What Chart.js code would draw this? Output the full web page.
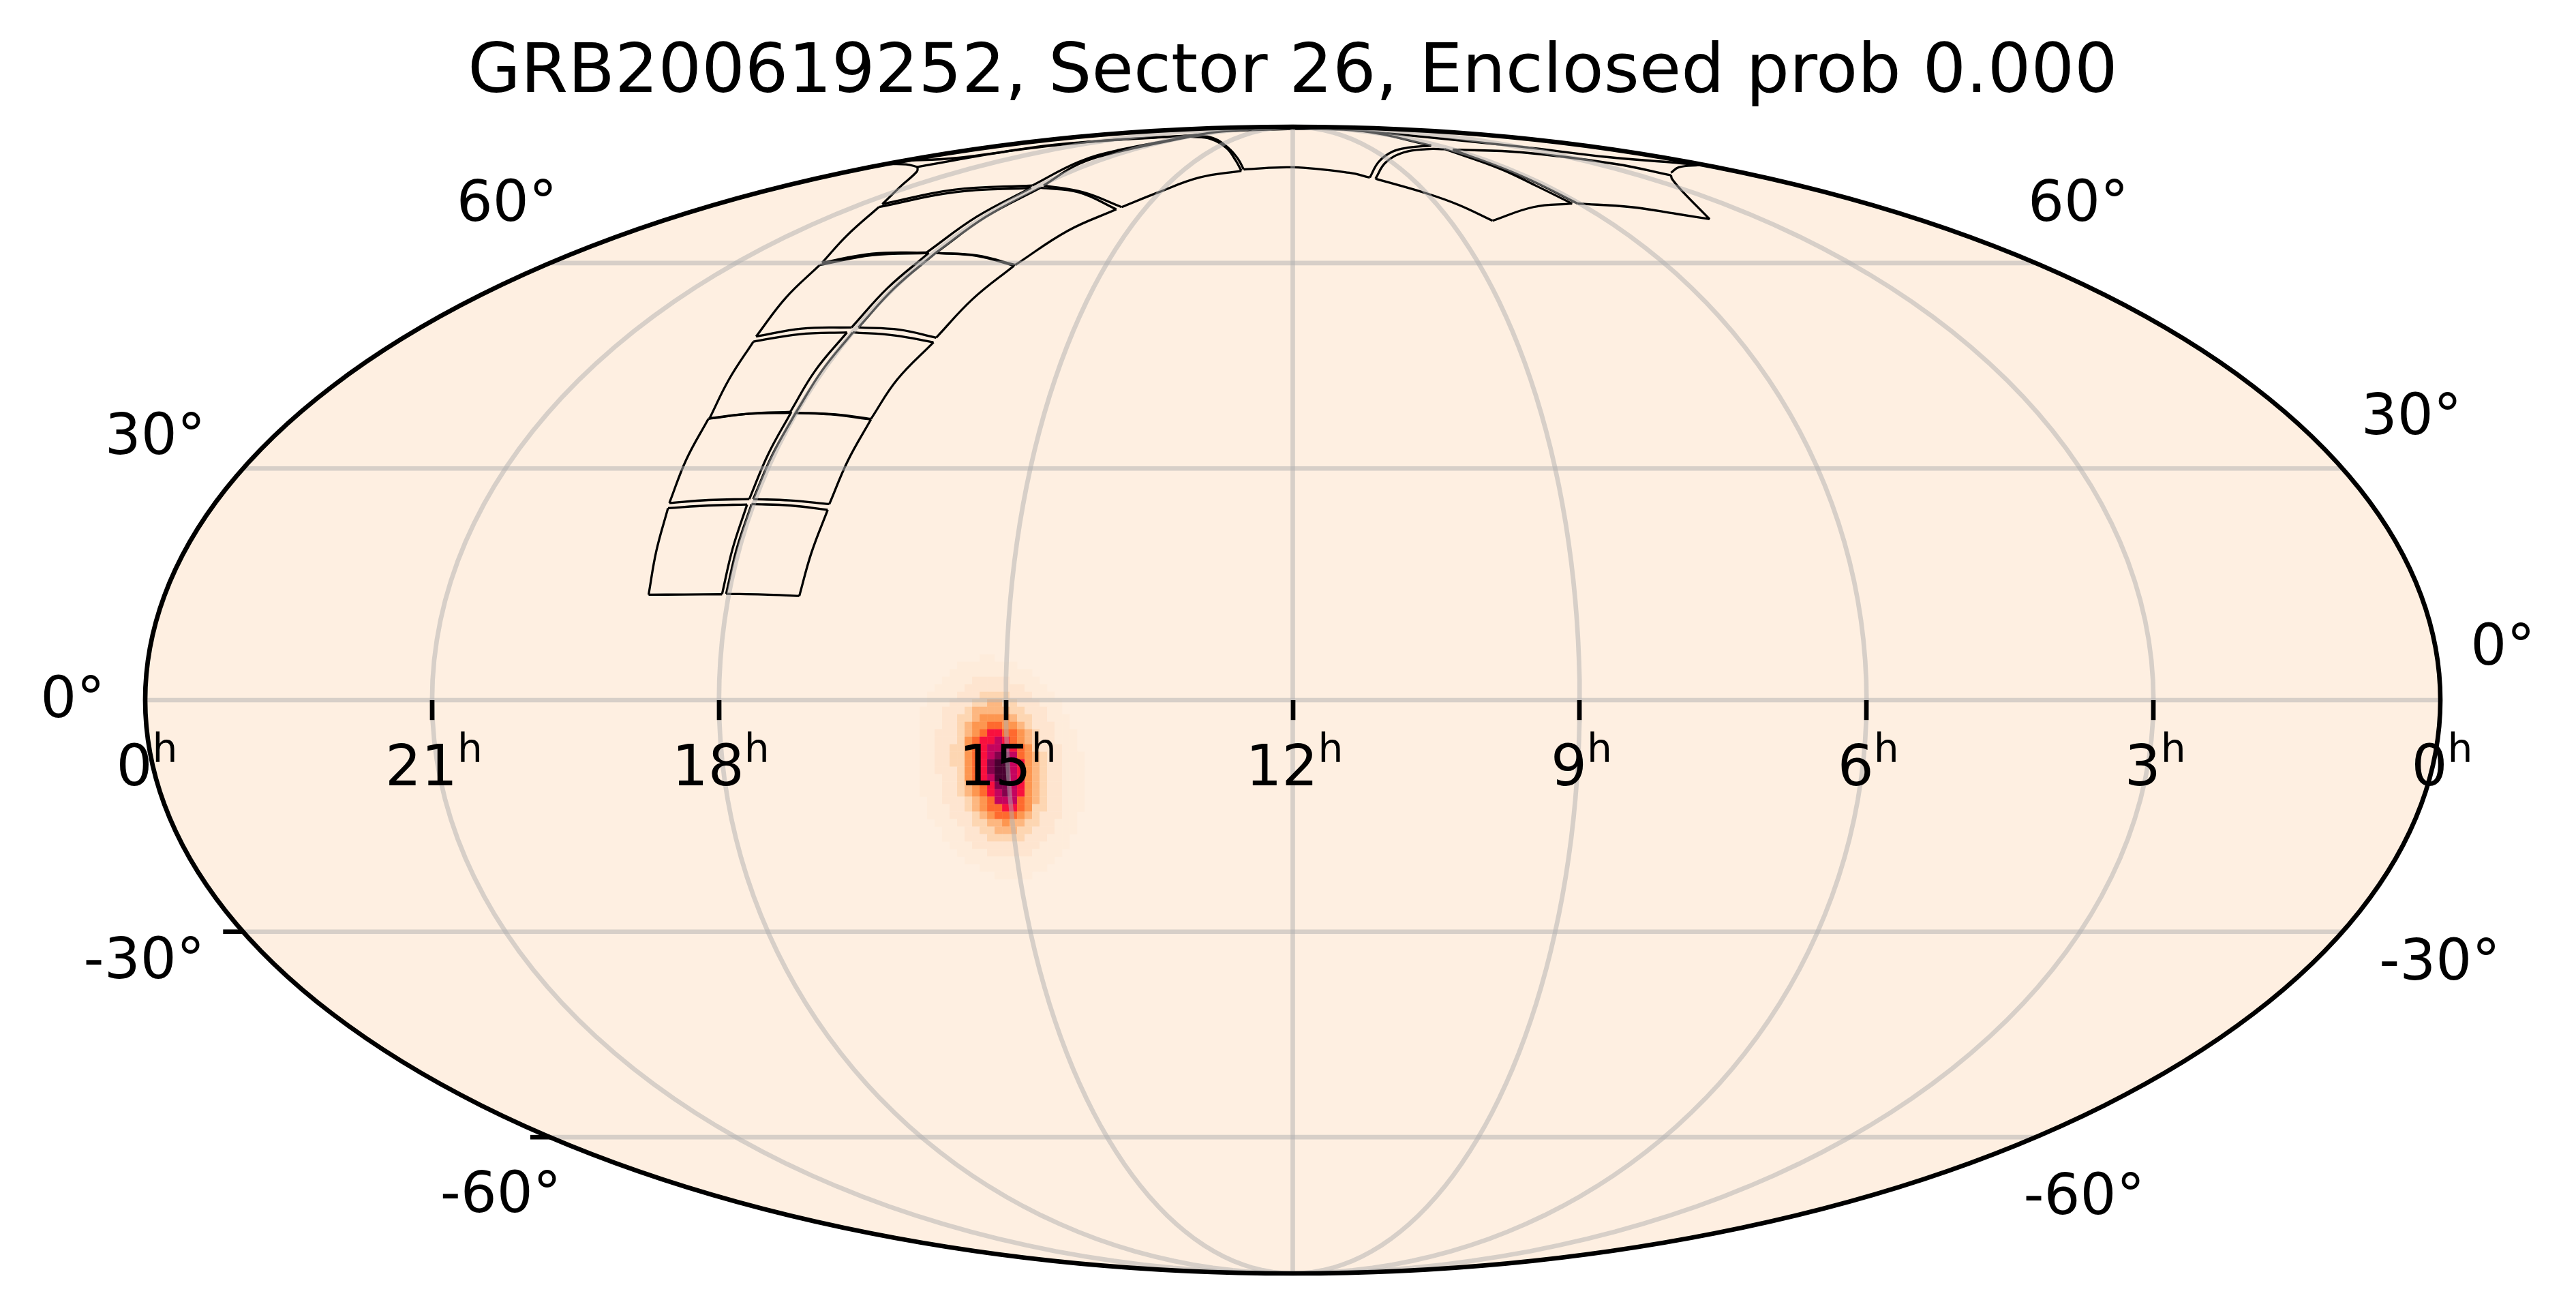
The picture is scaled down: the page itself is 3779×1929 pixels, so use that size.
<!DOCTYPE html>
<html><head><meta charset="utf-8">
<style>html,body{margin:0;padding:0;background:#fff}canvas{display:block}</style>
<script src="https://cdn.jsdelivr.net/npm/chart.js@4"></script>
</head><body><canvas id="c" width="3779" height="1929"></canvas>
<script>
const titleText = "GRB200619252, Sector 26, Enclosed prob 0.000";
const raTickHours = [21,18,15,12,9,6,3];
const raLabelHours = [24,21,18,15,12,9,6,3,0];
const raLabelTexts = ["0","21","18","15","12","9","6","3","0"];
const decGrid = [-60,-30,0,30,60];
const decTicks = [-30,-60];
// text, projected x (hours), projected y (fraction of half height)
const decLabels = [
 ["60°",20.218,.8354],["30°",23.896,.4290],["0°",24.759,-.0297],["-30°",24.011,-.4848],["-60°",20.282,-.8924],
 ["60°",3.786,.8354],["30°",.303,.4635],["0°",-.652,.0618],["-30°",.007,-.4872],["-60°",3.725,-.8960]
];
// probability map (a = 10)
const heatRa0 = 15.862, heatRaStep = 0.0784, heatY0 = 0.0733, heatYStep = 0.01307;
const heatColors = ["#feefe1","#feecdb","#fee5d0","#fdd6b2","#fdb780","#fd9650","#fe6a2e","#f8103e","#c4045e","#84024c","#4a0030"];
const heatRows = [
"0000000011000000000000","0000011111111000000000","0000111111111110000000","0001111222221111000000",
"0011112222222211100000","0111122233332221110000","0111222334433222111000","1112223444443322211000",
"1112233455554332211100","1112234556655432221100","1122234567766543221110","1122235677876543221110",
"1122335678887653222110","1122335678998654322111","1122335679aa8754322111","1122235679aa8754322111",
"1112235678aa8754322111","1112234567998754322111","1112234567898754322111","0112223456888654322111",
"0111223456677653322111","0111222345666543222110","0011122334454433221110","0001112233444332221110",
"0001112223333322211100","0000111222222222111100","0000011112222221111000","0000001111111111110000",
"0000000011111111100000","0000000000111110000000"];
// camera footprint edges: [projected x hours, projected y]
const panelEdges = [
 // row 1
 [[18.736,.1838],[18.360,.1842],[17.968,.1846]],
 [[17.968,.1846],[17.858,.2638],[17.706,.3411]],
 [[17.706,.3411],[18.110,.3395],[18.533,.3348]],
 [[18.533,.3348],[18.655,.2602],[18.736,.1838]],
 [[17.925,.1854],[17.540,.1842],[17.160,.1818]],
 [[17.160,.1818],[17.034,.2567],[16.863,.3319]],
 [[16.863,.3319],[17.255,.3395],[17.659,.3419]],
 [[17.659,.3419],[17.813,.2648],[17.925,.1854]],
 // row 2
 [[18.519,.3438],[18.110,.3490],[17.683,.3506]],
 [[17.683,.3506],[17.487,.4284],[17.243,.5027]],
 [[17.243,.5027],[17.683,.4995],[18.110,.4908]],
 [[18.110,.4908],[18.342,.4195],[18.519,.3438]],
 [[17.642,.3506],[17.255,.3482],[16.846,.3419]],
 [[16.846,.3419],[16.652,.4177],[16.411,.4896]],
 [[16.411,.4896],[16.827,.4983],[17.198,.5011]],
 [[17.198,.5011],[17.442,.4278],[17.642,.3506]],
 // row 3
 [[18.098,.4916],[17.683,.4995],[17.260,.5011]],
 [[17.260,.5011],[16.993,.5748],[16.661,.6413]],
 [[16.661,.6413],[17.160,.6382],[17.640,.6254]],
 [[17.640,.6254],[17.897,.5589],[18.098,.4916]],
 [[17.198,.5011],[16.779,.4983],[16.411,.4904]],
 [[16.411,.4904],[16.138,.5589],[15.757,.6242]],
 [[15.757,.6242],[16.162,.6361],[16.601,.6413]],
 [[16.601,.6413],[16.922,.5748],[17.198,.5011]],
 // row 4
 [[17.612,.6342],[17.136,.6480],[16.613,.6500]],
 [[16.613,.6500],[16.236,.7189],[15.805,.7799]],
 [[15.805,.7799],[16.399,.7760],[16.946,.7590]],
 [[16.946,.7590],[17.303,.7015],[17.612,.6342]],
 [[16.542,.6500],[16.114,.6461],[15.729,.6322]],
 [[15.729,.6322],[15.347,.6996],[14.914,.7578]],
 [[14.914,.7578],[15.306,.7748],[15.734,.7799]],
 [[15.734,.7799],[16.164,.7189],[16.542,.6500]],
 // row 5
 [[16.922,.7629],[16.399,.7787],[15.829,.7807]],
 [[15.829,.7807],[15.305,.8431],[14.736,.8936]],
 [[14.736,.8936],[15.544,.8857],[16.328,.8600]],
 [[16.328,.8600],[16.661,.8105],[16.922,.7629]],
 [[15.734,.7799],[15.306,.7756],[14.902,.7590]],
 [[14.902,.7590],[14.355,.8184],[13.845,.8560]],
 [[13.845,.8560],[14.237,.8857],[14.640,.8936]],
 [[14.640,.8936],[15.210,.8428],[15.734,.7799]],
 // upper left, near the limb
 [[16.292,.8651],[15.544,.8901],[14.724,.8976]],
 [[14.724,.8976],[14.239,.9388],[13.832,.9590],[13.000,.9855]],
 [[13.000,.9855],[13.954,.9760],[14.902,.9590],[15.924,.9301]],
 [[15.924,.9301],[15.929,.9222],[16.091,.8976],[16.292,.8651]],
 [[15.924,.9301],[16.043,.9344],[16.257,.9349]],
 [[16.114,.9403],[15.496,.9459],[14.426,.9697],[13.048,.9851]],
 // pole panels
 [[14.605,.8976],[14.189,.8857],[13.790,.8600]],
 [[13.790,.8600],[13.405,.8857],[12.977,.9115],[12.537,.9233]],
 [[12.537,.9233],[12.597,.9412],[12.692,.9629],[12.858,.9788],[13.072,.9828]],
 [[13.072,.9828],[13.832,.9560],[14.237,.9352],[14.605,.8976]],
 [[12.513,.9257],[12.000,.9293],[11.408,.9198],[11.194,.9115]],
 [[11.194,.9115],[11.102,.9388],[10.959,.9566],[10.788,.9638],[10.553,.9673]],
 [[10.553,.9673],[11.266,.9923],[12.000,.9964]],
 [[12.000,.9964],[12.692,.9923],[13.048,.9851]],
 [[13.048,.9851],[12.834,.9804],[12.670,.9626],[12.571,.9436],[12.513,.9257]],
 // right group
 [[11.135,.9094],[11.030,.9376],[10.838,.9554],[10.603,.9610],[10.410,.9610]],
 [[10.410,.9610],[9.840,.9273],[9.462,.8976],[9.079,.8660]],
 [[9.079,.8660],[9.483,.8600],[9.911,.8362]],
 [[9.911,.8362],[10.267,.8639],[10.600,.8838],[11.135,.9094]],
 [[10.327,.9602],[9.604,.9554],[8.627,.9352],[8.045,.9154]],
 [[8.045,.9154],[8.034,.9091],[7.938,.8897],[7.641,.8390]],
 [[7.641,.8390],[7.986,.8481],[8.463,.8600],[9.020,.8660]],
 [[9.020,.8660],[9.604,.9138],[10.327,.9602]],
 [[11.266,.9926],[10.788,.9851],[9.604,.9650],[8.699,.9471],[7.986,.9372],[7.750,.9332]],
 [[7.750,.9332],[7.964,.9293],[8.045,.9198]]
];

function mollTheta(decDeg){
  const phi = decDeg*Math.PI/180;
  let t = phi;
  for(let i=0;i<40;i++){ t -= (2*t+Math.sin(2*t)-Math.PI*Math.sin(phi))/(2+2*Math.cos(2*t)); }
  return t;
}
const lineStyle = {showLine:true,pointRadius:0,clip:false,fill:false,borderCapStyle:'butt'};
const datasets = [];
// heat cells
const heatPts=[], heatCols=[];
heatRows.forEach((row,r)=>{ [...row].forEach((ch,c)=>{
  const lv = parseInt(ch,16);
  if(lv>0){ heatPts.push({x:heatRa0-c*heatRaStep,y:heatY0-r*heatYStep}); heatCols.push(heatColors[lv]); }
});});
datasets.push({label:'probability',data:heatPts,order:2,pointStyle:'rect',pointRadius:7.95,pointBorderWidth:0,pointBackgroundColor:heatCols,showLine:false,clip:false});
// footprints
panelEdges.forEach((e,i)=>datasets.push({...lineStyle,label:'edge'+i,order:1,data:e.map(p=>({x:p[0],y:p[1]})),borderColor:'#000',borderWidth:3.3,tension:0.4}));
// graticule
const gridColor='rgba(176,176,176,0.5)';
decGrid.forEach(d=>{ const t=mollTheta(d), c=Math.cos(t), s=Math.sin(t);
  datasets.push({...lineStyle,label:'par'+d,order:0,borderColor:gridColor,borderWidth:6.67,data:[{x:12+12*c,y:s},{x:12-12*c,y:s}]});
});
raTickHours.forEach(h=>{ const pts=[];
  for(let i=0;i<=90;i++){ const t=-Math.PI/2+i*Math.PI/90; pts.push({x:12+(h-12)*Math.cos(t),y:Math.sin(t)}); }
  datasets.push({...lineStyle,label:'mer'+h,order:0,borderColor:gridColor,borderWidth:6.67,data:pts});
});

const frame = {
  id:'frame',
  beforeDatasetsDraw(ch){
    const {ctx,scales:{x,y}}=ch; const cx=x.getPixelForValue(12), cy=y.getPixelForValue(0);
    const a=Math.abs(x.getPixelForValue(0)-cx), b=Math.abs(y.getPixelForValue(1)-cy);
    ctx.save(); ctx.beginPath(); ctx.ellipse(cx,cy,a,b,0,0,Math.PI*2); ctx.fillStyle=heatColors[0]; ctx.fill(); ctx.restore();
  },
  afterDatasetsDraw(ch){
    const {ctx,scales:{x,y}}=ch; const cx=x.getPixelForValue(12), cy=y.getPixelForValue(0);
    const a=Math.abs(x.getPixelForValue(0)-cx), b=Math.abs(y.getPixelForValue(1)-cy);
    ctx.save();
    ctx.strokeStyle='#000'; ctx.lineWidth=6.67;
    ctx.beginPath(); ctx.ellipse(cx,cy,a,b,0,0,Math.PI*2); ctx.stroke();
    // ticks
    raTickHours.forEach(h=>{ const p=Math.round(x.getPixelForValue(h));
      ctx.beginPath(); ctx.moveTo(p,cy); ctx.lineTo(p,cy+29.2); ctx.stroke(); });
    decTicks.forEach(d=>{ const t=mollTheta(d), py=y.getPixelForValue(Math.sin(t)), pl=x.getPixelForValue(12+12*Math.cos(t));
      ctx.beginPath(); ctx.moveTo(pl,py); ctx.lineTo(pl-29.2,py); ctx.stroke(); });
    // labels
    ctx.fillStyle='#000'; ctx.textBaseline='alphabetic'; ctx.textAlign='left';
    const big='83.33px "DejaVu Sans"', small='58.33px "DejaVu Sans"';
    raLabelHours.forEach((h,i)=>{
      const t=raLabelTexts[i]; ctx.font=big; const w1=ctx.measureText(t).width; ctx.font=small; const w2=ctx.measureText('h').width;
      const left=x.getPixelForValue(h)-(w1+w2)/2+2.5, base=cy+125;
      ctx.font=big; ctx.fillText(t,left,base);
      ctx.font=small; ctx.fillText('h',left+w1,base-34);
    });
    ctx.font=big; ctx.textAlign='center';
    decLabels.forEach(l=>ctx.fillText(l[0],x.getPixelForValue(l[1]),y.getPixelForValue(l[2])));
    ctx.restore();
  }
};

new Chart(document.getElementById('c'),{
  type:'scatter',
  data:{datasets},
  plugins:[frame],
  options:{
    responsive:false,animation:false,devicePixelRatio:1,events:[],
    layout:{padding:{left:213,right:199,top:0,bottom:61}},
    scales:{
      x:{type:'linear',min:0,max:24,reverse:true,display:false},
      y:{type:'linear',min:-1,max:1,display:false}
    },
    plugins:{
      legend:{display:false},tooltip:{enabled:false},
      title:{display:true,text:titleText,color:'#000',font:{family:'"DejaVu Sans"',size:100,weight:'normal',lineHeight:1.2},padding:{top:49,bottom:17}}
    }
  }
});
</script></body></html>
